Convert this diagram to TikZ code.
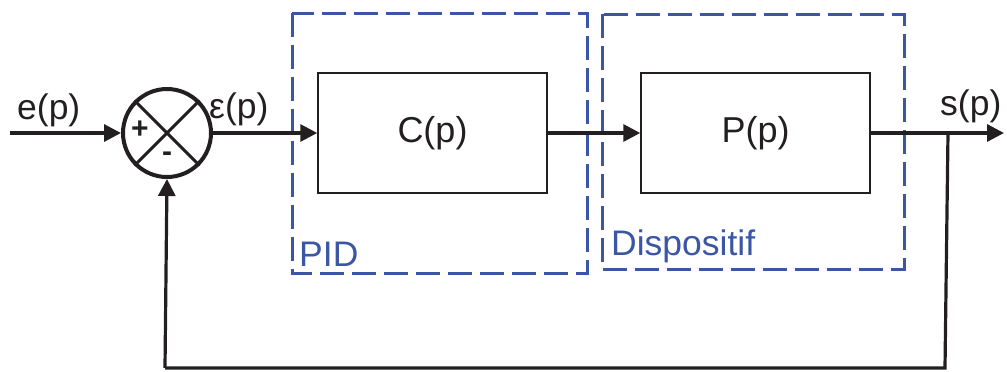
\documentclass[tikz,border=0pt]{standalone}
\usepackage{fontspec}
\setmainfont{Liberation Sans}
\usetikzlibrary{arrows.meta}
\definecolor{ink}{HTML}{231F20}
\definecolor{pidblue}{HTML}{3A56A5}
\tikzset{
  sig/.style={draw=ink, line width=3.2pt},
  sigarrow/.style={sig, -{Triangle[length=17pt,width=17pt]}},
  blockbox/.style={draw=ink, line width=1.5pt, minimum width=229pt, minimum height=120pt, inner sep=0pt, font=\fontsize{36}{40}\selectfont, text=ink},
  groupbox/.style={draw=pidblue, line width=3pt, dash pattern=on 24pt off 8pt},
  grouplabel/.style={text=pidblue, font=\fontsize{35.5}{40}\selectfont, anchor=south west, inner sep=0pt},
  siglabel/.style={text=ink, font=\fontsize{35.5}{40}\selectfont, inner sep=0pt},
  signlabel/.style={text=ink, font=\bfseries\fontsize{30}{32}\selectfont, inner sep=0pt}
}
\begin{document}
\begin{tikzpicture}[x=1pt,y=-1pt]
\useasboundingbox (0,0) rectangle (1007,372);
% group boxes
\draw[groupbox] (292,13) rectangle (587,273);
\draw[groupbox] (602,14) rectangle (904,269);
\node[grouplabel] (pidlab) at (299,267) {PID};
\node[grouplabel] (displab) at (611,263) {Dispositif};
% blocks
\node[blockbox] (C) at (432.5,133) {C(p)};
\node[blockbox] (P) at (755.5,133) {P(p)};
% summing junction
\node[circle, draw=ink, line width=4pt, minimum size=88pt, inner sep=0pt] (S) at (167,133) {};
\draw[ink, line width=3pt] (S.north west) -- (S.south east);
\draw[ink, line width=3pt] (S.south west) -- (S.north east);
\node[signlabel] (plus) at (140,130) {+};
\node[signlabel] (minus) at (167,157) {-};
% coordinates
\coordinate (in) at (10,133);
\coordinate (out) at (1004,133);
\coordinate (branch) at (948,133);
\coordinate (fbr) at (945,368);
\coordinate (fbl) at (165,368);
% signals
\draw[sigarrow] (in) -- (S.west);
\draw[sigarrow] (S.east) -- (C.west);
\draw[sigarrow] (C.east) -- (P.west);
\draw[sigarrow] (P.east) -- (out);
\draw[sig] (branch) -- (fbr) -- (fbl);
\draw[sigarrow] (fbl) -- (S.south);
% labels
\node[siglabel, anchor=base west] (elab) at (17,119) {e(p)};
\node[siglabel, anchor=base west] (epslab) at (209,118) {ε(p)};
\node[siglabel, anchor=base west] (slab) at (940,115) {s(p)};
\end{tikzpicture}
\end{document}
